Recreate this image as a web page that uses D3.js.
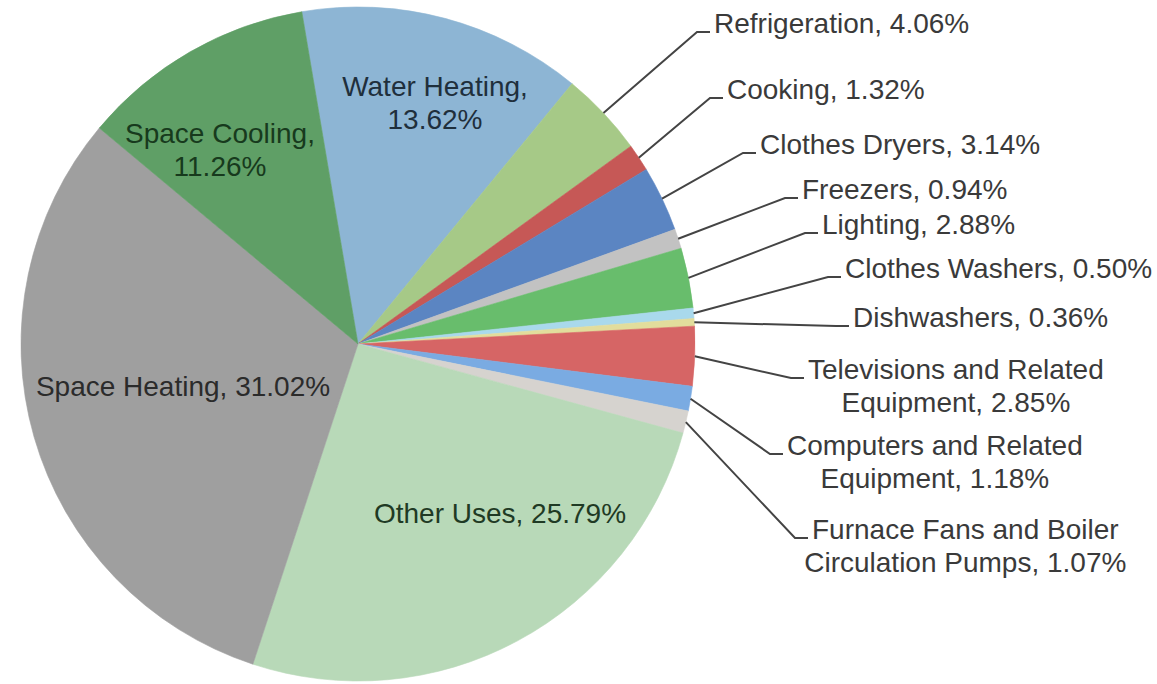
<!DOCTYPE html>
<html>
<head>
<meta charset="utf-8">
<script src="https://cdn.jsdelivr.net/npm/d3@7"></script>
<style>
  html, body { margin: 0; padding: 0; background: #ffffff; }
  svg { display: block; }
  text { font-family: "Liberation Sans", Arial, sans-serif; font-size: 28px; }
</style>
</head>
<body>
<svg id="chart" width="1157" height="684"></svg>
<script>
// ---- data ----
const categories = [
  "Water Heating", "Refrigeration", "Cooking", "Clothes Dryers", "Freezers",
  "Lighting", "Clothes Washers", "Dishwashers",
  "Televisions and Related Equipment", "Computers and Related Equipment",
  "Furnace Fans and Boiler Circulation Pumps", "Other Uses",
  "Space Heating", "Space Cooling"
];
const shares = [13.62, 4.06, 1.32, 3.14, 0.94, 2.88, 0.50, 0.36, 2.85, 1.18, 1.07, 25.79, 31.02, 11.26];
const labelLines = [
  ["Water Heating,", "13.62%"],
  ["Refrigeration, 4.06%"],
  ["Cooking, 1.32%"],
  ["Clothes Dryers, 3.14%"],
  ["Freezers, 0.94%"],
  ["Lighting, 2.88%"],
  ["Clothes Washers, 0.50%"],
  ["Dishwashers, 0.36%"],
  ["Televisions and Related", "Equipment, 2.85%"],
  ["Computers and Related", "Equipment, 1.18%"],
  ["Furnace Fans and Boiler", "Circulation Pumps, 1.07%"],
  ["Other Uses, 25.79%"],
  ["Space Heating, 31.02%"],
  ["Space Cooling,", "11.26%"]
];

// ---- style / layout ----
const colors = [
  "#8db5d4", "#a6c987", "#c65856", "#5b85c2", "#c2c2c2",
  "#68bd6c", "#a9d9ec", "#e2dd9c",
  "#d66565", "#7aabe2", "#d6d3cf", "#b8d9b8",
  "#9f9f9f", "#5f9f66"
];
const cx = 358, cy = 344, R = 337;
const startDeg = -9.6;
// inside label placement: [centerX, firstBaseline, textColor]
const insideLabels = {
  0: [435, 96, "#1f2f3c"],
  11: [500, 523, "#1f3a24"],
  12: [183, 396, "#2b2b2b"],
  13: [220, 143, "#173a1d"]
};
// outside label leader end points [x, y]
const outsideAnchors = {
  1: [710, 32], 2: [723, 98], 3: [756, 153], 4: [798, 198], 5: [818, 233],
  6: [841, 277], 7: [849, 326], 8: [804, 378], 9: [783, 454], 10: [808, 538]
};
const lineGap = 33;

const svg = d3.select("#chart");
const g = svg.append("g").attr("transform", `translate(${cx},${cy})`);

const data = categories.map((c, i) => ({ name: c, value: shares[i], idx: i }));
const start = startDeg * Math.PI / 180;
const pie = d3.pie().value(d => d.value).sort(null)
  .startAngle(start).endAngle(start + 2 * Math.PI);
const arcs = pie(data);
const arc = d3.arc().innerRadius(0).outerRadius(R);

g.selectAll("path.slice").data(arcs).enter().append("path")
  .attr("class", "slice")
  .attr("d", arc)
  .attr("fill", d => colors[d.data.idx])
  .attr("stroke", d => colors[d.data.idx])
  .attr("stroke-width", 0.6);

// leader lines + outside labels
const lab = svg.append("g");
arcs.forEach(a => {
  const i = a.data.idx;
  if (outsideAnchors[i]) {
    const mid = (a.startAngle + a.endAngle) / 2;
    const px = cx + R * Math.sin(mid), py = cy - R * Math.cos(mid);
    const [lx, ly] = outsideAnchors[i];
    lab.append("polyline")
      .attr("points", `${px},${py} ${lx - 13},${ly} ${lx},${ly}`)
      .attr("fill", "none").attr("stroke", "#444").attr("stroke-width", 2);
    const lines = labelLines[i];
    const t = lab.append("text").attr("fill", "#3a3a3a");
    const first = t.append("tspan").attr("x", lx + 4).attr("y", ly + 1).text(lines[0]);
    if (lines.length > 1) {
      const w = first.node().getComputedTextLength();
      const mx = lx + 4 + w / 2;
      first.attr("x", mx).attr("text-anchor", "middle");
      lines.slice(1).forEach((ln, k) => {
        t.append("tspan").attr("x", mx).attr("y", ly + 1 + lineGap * (k + 1))
          .attr("text-anchor", "middle").text(ln);
      });
    }
  } else if (insideLabels[i]) {
    const [mx, by, col] = insideLabels[i];
    const t = lab.append("text").attr("fill", col).attr("text-anchor", "middle");
    labelLines[i].forEach((ln, k) => {
      t.append("tspan").attr("x", mx).attr("y", by + lineGap * k).text(ln);
    });
  }
});
</script>
</body>
</html>
